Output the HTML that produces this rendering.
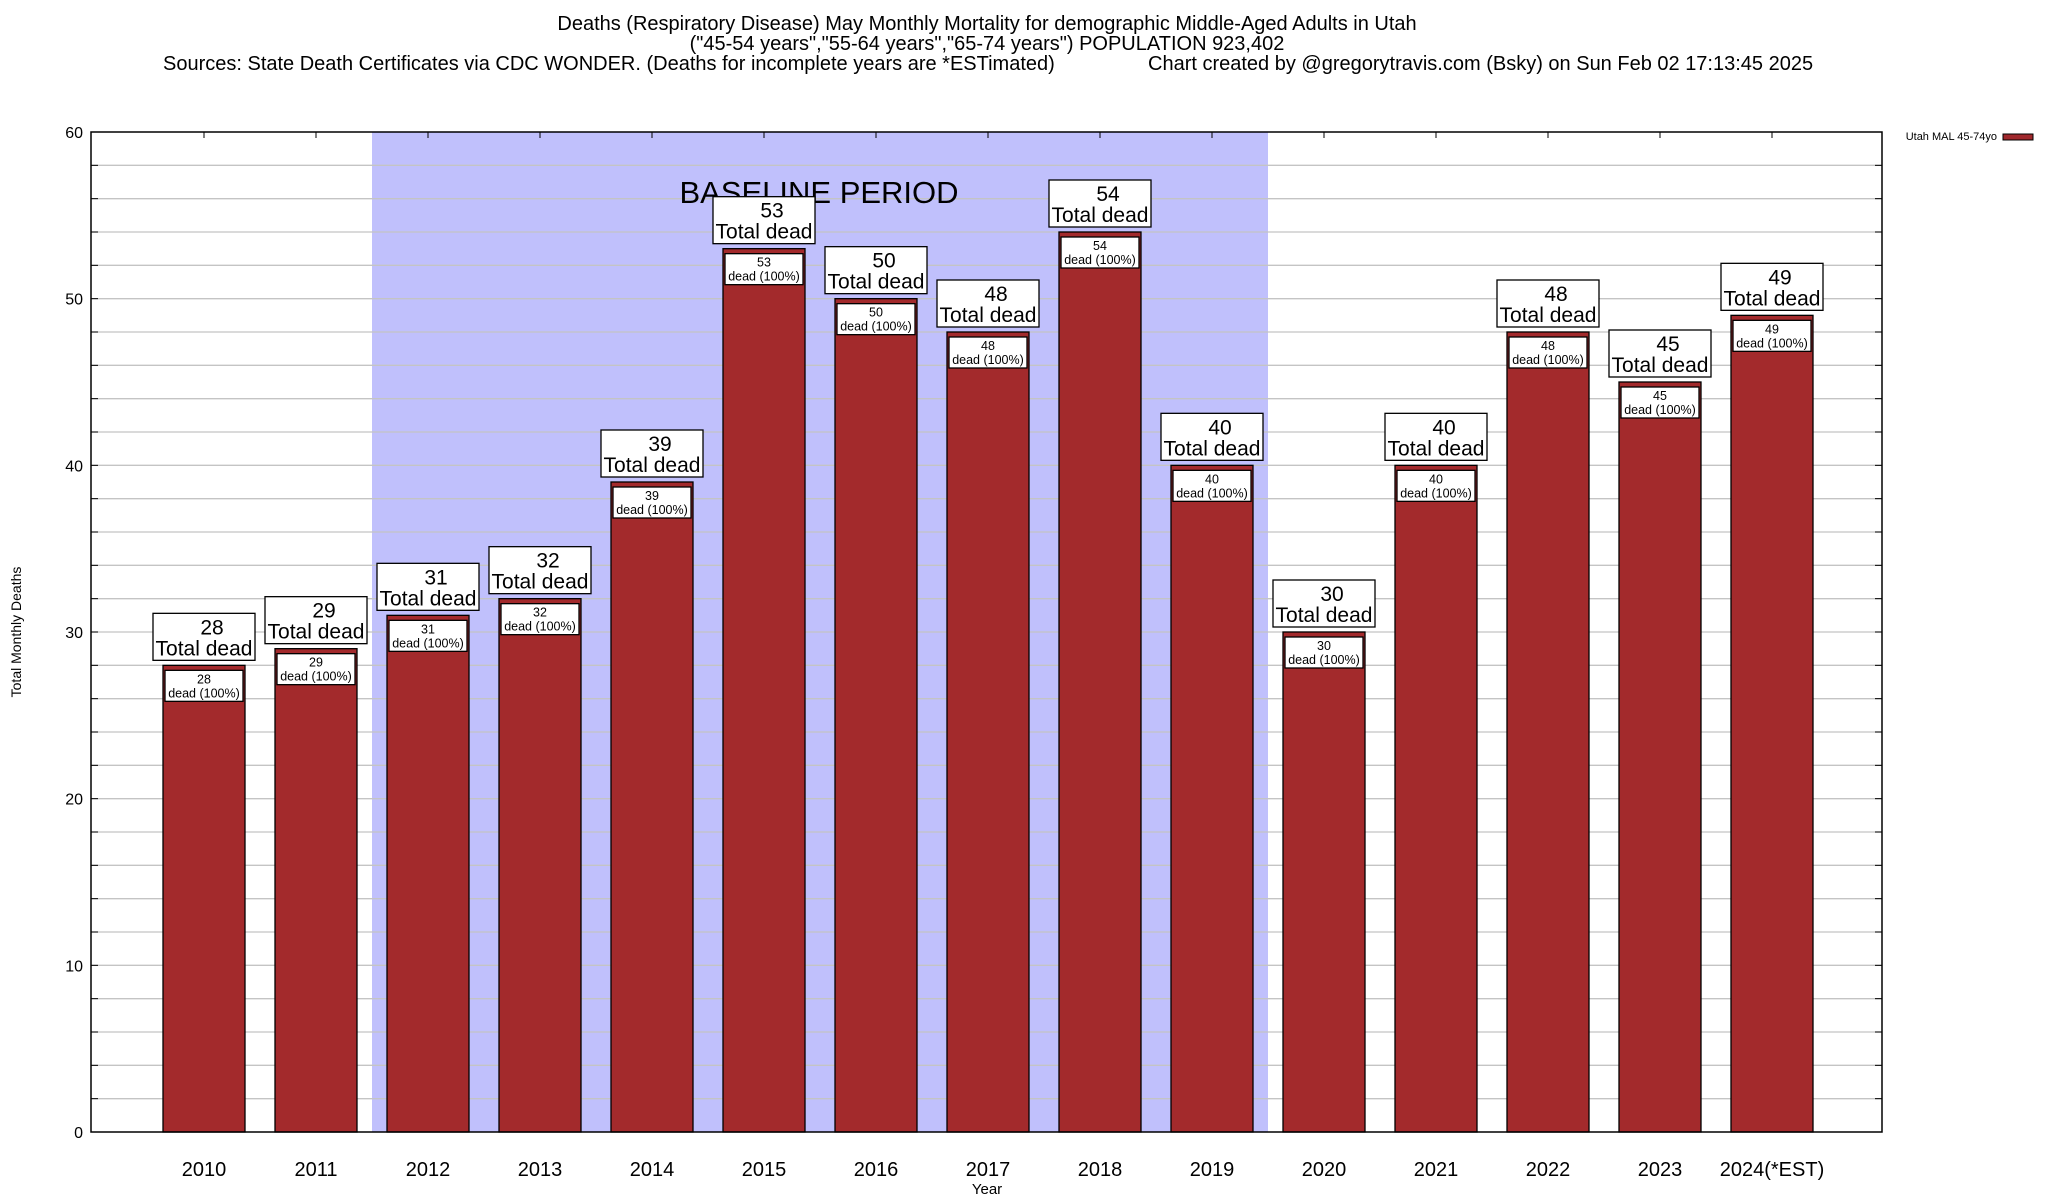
<!DOCTYPE html>
<html><head><meta charset="utf-8"><style>
html,body{margin:0;padding:0;background:#fff;}
svg{display:block;font-family:"Liberation Sans",sans-serif;}
</style></head><body>
<svg id="chart" width="2048" height="1200" viewBox="0 0 2048 1200" xmlns="http://www.w3.org/2000/svg">
<text x="987" y="30" font-size="20" text-anchor="middle">Deaths (Respiratory Disease) May Monthly Mortality for demographic Middle-Aged Adults in Utah</text>
<text x="987" y="50" font-size="20" text-anchor="middle">("45-54 years","55-64 years","65-74 years") POPULATION 923,402</text>
<text x="163" y="70" font-size="20">Sources: State Death Certificates via CDC WONDER. (Deaths for incomplete years are *ESTimated)</text>
<text x="1148" y="70" font-size="20">Chart created by @gregorytravis.com (Bsky) on Sun Feb 02 17:13:45 2025</text>
<g id="plot"></g>
<text x="21" y="632" font-size="14" text-anchor="middle" transform="rotate(-90 21 632)">Total Monthly Deaths</text>
<text x="987" y="1194" font-size="15" text-anchor="middle">Year</text>
<text x="1997" y="140" font-size="11" text-anchor="end">Utah MAL 45-74yo</text>
<rect x="2003" y="134" width="30" height="6" fill="#a0282c" stroke="#000" stroke-width="1"/>
</svg>
<script>
const categories = ["2010","2011","2012","2013","2014","2015","2016","2017","2018","2019","2020","2021","2022","2023","2024(*EST)"];
const deaths = [28,29,31,32,39,53,50,48,54,40,30,40,48,45,49];
const yTicks = [0,10,20,30,40,50,60];
const baselineStart = 2; // index of 2012
const baselineEnd = 9;   // index of 2019

const NS = "http://www.w3.org/2000/svg";
const L = 91, R = 1882, T = 132, B = 1132;
const x0 = 204, step = 112.0, barW = 82;
function xPos(i){ return x0 + i*step; }
function yPos(v){ return B - (v/60)*(B-T); }
const g = document.getElementById('plot');
function mk(tag, attrs, parent){
  const e = document.createElementNS(NS, tag);
  for (const k in attrs) e.setAttribute(k, attrs[k]);
  (parent||g).appendChild(e);
  return e;
}
const sh = mk('rect',{x:xPos(baselineStart)-step/2, y:T, width:(baselineEnd-baselineStart+1)*step, height:B-T, fill:'#c0c0fc'});


for (let v=2; v<60; v+=2){
  const gl = mk('line',{x1:L, x2:R, y1:yPos(v), y2:yPos(v), stroke:'#c4c4c4', 'stroke-width':1.3});
  
  
  mk('line',{x1:L, x2:L+7, y1:yPos(v), y2:yPos(v), stroke:'#000'});
  mk('line',{x1:R-7, x2:R, y1:yPos(v), y2:yPos(v), stroke:'#000'});
}
yTicks.forEach(v=>{
  const t = mk('text',{x:L-8, y:yPos(v)+6, 'font-size':16, 'text-anchor':'end'});
  t.textContent = v;
  
  
});
const bl = mk('text',{x:819, y:203, 'font-size':31, 'text-anchor':'middle'});
bl.textContent = 'BASELINE PERIOD';


categories.forEach((c,i)=>{
  const v = deaths[i], cx = xPos(i), yt = yPos(v);
  mk('line',{x1:cx, x2:cx, y1:T, y2:T+6, stroke:'#000'});
  const bar = mk('rect',{x:cx-barW/2, y:yt, width:barW, height:B-yt, fill:'#a32a2c', stroke:'#000', 'stroke-width':1.3});
  
  
  const ib = mk('rect',{x:cx-39, y:yt+5, width:78, height:31, fill:'#fff', stroke:'#000', 'stroke-width':1.3});
  
  
  const it1 = mk('text',{x:cx, y:yt+18, 'font-size':12.5, 'text-anchor':'middle'}); it1.textContent = v;
  
  
  const it2 = mk('text',{x:cx, y:yt+32, 'font-size':12.5, 'text-anchor':'middle'}); it2.textContent = 'dead (100%)';
  
  
  const ob = mk('rect',{x:cx-51, y:yt-52, width:102, height:47, fill:'#fff', stroke:'#000', 'stroke-width':1.3});
  
  
  const t1 = mk('text',{x:cx+8, y:yt-31, 'font-size':21, 'text-anchor':'middle'}); t1.textContent = v;
  
  
  const t2 = mk('text',{x:cx, y:yt-10, 'font-size':21, 'text-anchor':'middle'}); t2.textContent = 'Total dead';
  
  
  const xl = mk('text',{x:cx, y:1176, 'font-size':20, 'text-anchor':'middle'}); xl.textContent = c;
  
  
});
const fr = mk('rect',{x:L, y:T, width:R-L, height:B-T, fill:'none', stroke:'#000', 'stroke-width':1.5});


</script>
</body></html>
